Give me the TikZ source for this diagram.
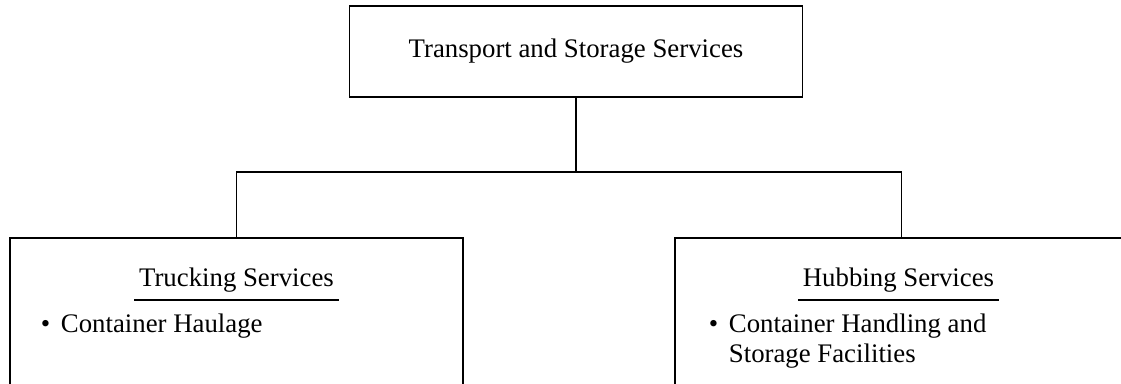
\documentclass[tikz,border=0pt]{standalone}
\usepackage{fontspec}
\setmainfont{Liberation Serif}
\begin{document}
\begin{tikzpicture}[x=0.5pt,y=-0.5pt,
  line width=0.9pt,
  every node/.style={font=\fontsize{13.4}{15}\selectfont},
  box/.style={draw, rectangle, minimum width=226.5pt, minimum height=45.5pt, inner sep=0pt},
  subbox/.style={draw, rectangle, anchor=north, minimum width=226.5pt, minimum height=90pt, inner sep=0pt},
  heading/.style={anchor=base, inner xsep=2pt, inner ysep=3.2pt},
  item/.style={anchor=base west, inner sep=0pt}]
  \clip (0,0) rectangle (1121,384);
  % top level
  \node[box] (tss) at (576,51.5) {Transport and Storage Services};
  % second level
  \node[subbox] (trk) at (236.5,237) {};
  \node[subbox] (hub) at (901.5,237) {};
  \coordinate (bus) at (576,172);
  \draw (tss.south) -- (bus);
  \draw (trk.north) |- (bus) -| (hub.north);
  % headings
  \node[heading] (trkh) at (236.5,287) {Trucking Services};
  \node[heading] (hubh) at (898.5,287) {Hubbing Services};
  \draw (trkh.south west) -- (trkh.south east);
  \draw (hubh.south west) -- (hubh.south east);
  % items
  \node[item] (trki) at (40,333) {\makebox[10pt][l]{\textbullet}Container Haulage};
  \node[item] (hubi) at (708,333) {\begin{tabular}[t]{@{}l@{}}
    \makebox[10pt][l]{\textbullet}Container Handling and\\
    \hspace*{10pt}Storage Facilities\end{tabular}};
\end{tikzpicture}
\end{document}
